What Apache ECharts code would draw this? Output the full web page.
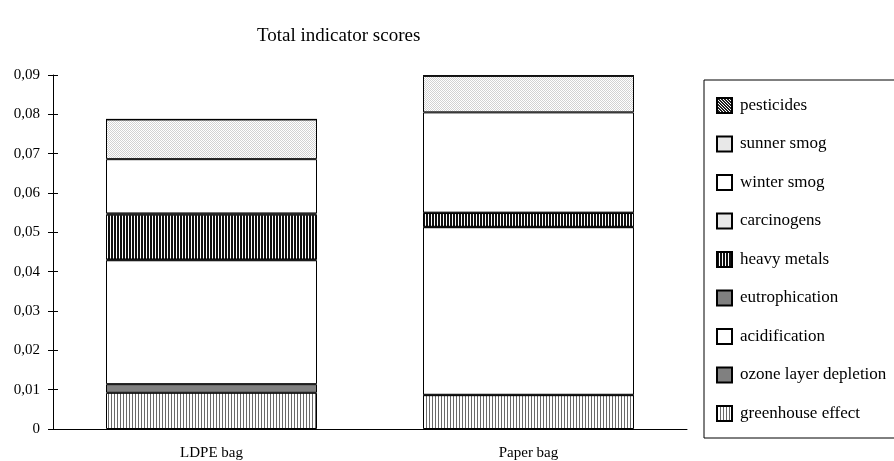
<!DOCTYPE html>
<html>
<head>
    <meta charset="utf-8">
    <title>Total indicator scores</title>
    <script src="https://cdn.jsdelivr.net/npm/echarts@6/dist/echarts.min.js"></script>
</head>
<body style="margin:0px;background-color:#fff;">
    <div id="main" style="width: 894px;height:461px;"></div>
    <script type="text/javascript">
        // data
        var categories = ['LDPE bag', 'Paper bag'];
        var greenhouse = [0.0092, 0.0086];
        var ozone = [0.0022, 0.0001];
        var acidification = [0.0315, 0.0426];
        var eutrophication = [0.0002, 0.0001];
        var heavyMetals = [0.0114, 0.0035];
        var carcinogens = [0.0003, 0.0001];
        var winterSmog = [0.0138, 0.0255];
        var sunnerSmog = [0.0101, 0.0093];
        var pesticides = [0.0000, 0.0000];
        var yTicks = [0, 0.01, 0.02, 0.03, 0.04, 0.05, 0.06, 0.07, 0.08, 0.09];

        var serif = 'Liberation Serif';

        // small canvas patterns used as fills
        function makePattern(w, h, draw) {
            var c = document.createElement('canvas');
            c.width = w; c.height = h;
            var ctx = c.getContext('2d');
            ctx.fillStyle = '#fff';
            ctx.fillRect(0, 0, w, h);
            draw(ctx);
            return { image: c, repeat: 'repeat' };
        }
        var pVertLight = makePattern(3, 3, function (ctx) {
            ctx.fillStyle = '#6a6a6a';
            ctx.fillRect(0, 0, 1, 3);
        });
        var pVertDark = makePattern(3, 3, function (ctx) {
            ctx.fillStyle = '#111';
            ctx.fillRect(0, 0, 2, 3);
        });
        var pDots = makePattern(2, 2, function (ctx) {
            ctx.fillStyle = '#d2d2d2';
            ctx.fillRect(0, 0, 1, 1);
            ctx.fillRect(1, 1, 1, 1);
        });
        var pDiag = makePattern(3, 3, function (ctx) {
            ctx.fillStyle = '#222';
            for (var i = 0; i < 3; i++) {
                ctx.fillRect(i, i, 1, 1);
                ctx.fillRect((i + 1) % 3, i, 1, 1);
            }
        });

        var seriesDefs = [
            ['greenhouse effect', greenhouse, pVertLight],
            ['ozone layer depletion', ozone, '#808080'],
            ['acidification', acidification, '#ffffff'],
            ['eutrophication', eutrophication, '#808080'],
            ['heavy metals', heavyMetals, pVertDark],
            ['carcinogens', carcinogens, pDots],
            ['winter smog', winterSmog, '#ffffff'],
            ['sunner smog', sunnerSmog, pDots],
            ['pesticides', pesticides, pDiag]
        ];

        var series = seriesDefs.map(function (d) {
            return {
                name: d[0],
                type: 'bar',
                stack: 'total',
                barWidth: 211,
                data: d[1],
                itemStyle: { color: d[2], borderColor: '#000', borderWidth: 1 },
                emphasis: { disabled: true }
            };
        });

        var legendNames = seriesDefs.map(function (d) { return d[0]; }).reverse();

        var myChart = echarts.init(document.getElementById('main'), null, { renderer: 'canvas' });
        var option = {
            animation: false,
            title: {
                text: 'Total indicator scores',
                left: 252,
                top: 22,
                textStyle: { fontFamily: serif, fontSize: 19, fontWeight: 'normal', color: '#000' }
            },
            legend: {
                orient: 'vertical',
                left: 704,
                top: 80,
                data: legendNames,
                icon: 'rect',
                itemWidth: 15,
                itemHeight: 15,
                itemGap: 21.5,
                padding: [17, 40, 16, 12],
                borderColor: '#000',
                borderWidth: 1,
                selectedMode: false,
                textStyle: { fontFamily: serif, fontSize: 17, color: '#000', padding: [0, 0, 0, 3] }
            },
            grid: { left: 53, right: 207, top: 75, bottom: 32 },
            xAxis: [{
                type: 'category',
                data: categories,
                axisLine: { lineStyle: { color: '#000' } },
                axisTick: { length: 5, lineStyle: { color: '#000' } },
                axisLabel: { fontFamily: serif, fontSize: 15, color: '#000', margin: 17 }
            }, {
                type: 'category',
                data: categories,
                position: 'bottom',
                axisLine: { show: false },
                axisTick: { inside: true, length: 5, lineStyle: { color: '#000' } },
                axisLabel: { show: false }
            }],
            yAxis: [{
                type: 'value',
                min: yTicks[0],
                max: yTicks[yTicks.length - 1],
                interval: 0.01,
                splitLine: { show: false },
                axisLine: { show: true, lineStyle: { color: '#000' } },
                axisTick: { show: true, length: 5, lineStyle: { color: '#000' } },
                axisLabel: {
                    fontFamily: serif, fontSize: 15, color: '#000', margin: 13,
                    formatter: function (v) { return v === 0 ? '0' : v.toFixed(2).replace('.', ','); }
                }
            }, {
                type: 'value',
                position: 'left',
                min: yTicks[0],
                max: yTicks[yTicks.length - 1],
                interval: 0.01,
                splitLine: { show: false },
                axisLine: { show: false },
                axisTick: { show: true, inside: true, length: 5, lineStyle: { color: '#000' } },
                axisLabel: { show: false }
            }],
            series: series
        };
        myChart.setOption(option);
    </script>
</body>
</html>
